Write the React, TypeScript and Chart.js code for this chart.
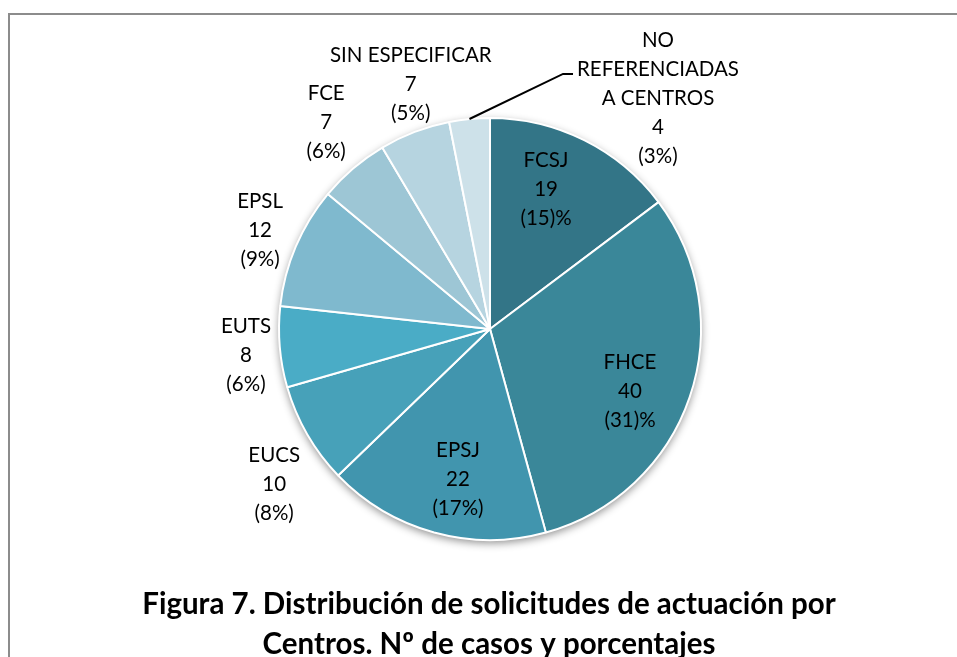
import { useEffect, useRef } from "react";
import { Chart, registerables } from "chart.js";

Chart.register(...registerables);

// ---- data ----
const CATEGORIES = [
  "FCSJ",
  "FHCE",
  "EPSJ",
  "EUCS",
  "EUTS",
  "EPSL",
  "FCE",
  "SIN ESPECIFICAR",
  "NO REFERENCIADAS A CENTROS",
];
const NAME_LINES = [
  ["FCSJ"],
  ["FHCE"],
  ["EPSJ"],
  ["EUCS"],
  ["EUTS"],
  ["EPSL"],
  ["FCE"],
  ["SIN ESPECIFICAR"],
  ["NO", "REFERENCIADAS", "A CENTROS"],
];
const CASES = [19, 40, 22, 10, 8, 12, 7, 7, 4];
const PCT_LABELS = ["(15)%", "(31)%", "(17%)", "(8%)", "(6%)", "(9%)", "(6%)", "(5%)", "(3%)"];
const TITLE_LINES = [
  "Figura 7. Distribución de solicitudes de actuación por",
  "Centros. Nº de casos y porcentajes",
];

// ---- styles ----
const COLORS = [
  "#337587",
  "#3a8799",
  "#4195ae",
  "#47a1b9",
  "#4aacc6",
  "#7fb9ce",
  "#9dc6d5",
  "#b6d4e0",
  "#cde1e9",
];
// label placement relative to each slice (fraction of radius, angle shift in degrees)
const LABEL_RADIUS = [0.715, 0.726, 0.727, 1.261, 1.163, 1.185, 1.248, 1.22, 1.354];
const LABEL_ANGLE_SHIFT = [-4.7, 5.1, -3.3, -5.8, -1.2, 0.1, 2.0, 3.0, 41.6];
const HAS_LEADER = [false, false, false, false, false, false, false, false, true];

const LABEL_FONT = '20.5px Lato, "Open Sans", sans-serif';
const TITLE_FONT = 'bold 29.5px Lato, "Open Sans", sans-serif';
const LINE_H = 29;

const piePlugin = {
  id: "pieDecor",
  beforeDraw(chart: any) {
    const ctx = chart.ctx;
    ctx.save();
    ctx.fillStyle = "#ffffff";
    ctx.fillRect(0, 0, chart.width, chart.height);
    ctx.fillStyle = "#8c8c8c";
    ctx.fillRect(8, 13, chart.width - 8, 2);
    ctx.fillRect(8, 13, 2, chart.height - 13);
    ctx.restore();
  },
  beforeDatasetsDraw(chart: any) {
    const meta = chart.getDatasetMeta(0);
    const arc = meta.data[0];
    if (!arc) return;
    const { x, y, outerRadius } = arc.getProps(["x", "y", "outerRadius"], true);
    const ctx = chart.ctx;
    ctx.save();
    ctx.shadowColor = "rgba(0,0,0,0.45)";
    ctx.shadowBlur = 8;
    ctx.shadowOffsetY = 3;
    ctx.fillStyle = "#ffffff";
    ctx.beginPath();
    ctx.arc(x, y, outerRadius, 0, Math.PI * 2);
    ctx.fill();
    ctx.restore();
  },
  afterDatasetsDraw(chart: any) {
    const meta = chart.getDatasetMeta(0);
    const ctx = chart.ctx;
    ctx.save();
    ctx.font = LABEL_FONT;
    ctx.textAlign = "center";
    ctx.textBaseline = "middle";
    ctx.fillStyle = "#000000";
    meta.data.forEach((arc: any, i: number) => {
      const { x, y, startAngle, endAngle, outerRadius } = arc.getProps(
        ["x", "y", "startAngle", "endAngle", "outerRadius"],
        true
      );
      const midRaw = (startAngle + endAngle) / 2;
      const mid = midRaw + (LABEL_ANGLE_SHIFT[i] * Math.PI) / 180;
      const r = outerRadius * LABEL_RADIUS[i];
      const cx = x + Math.cos(mid) * r;
      const cy = y + Math.sin(mid) * r;
      const lines = [...NAME_LINES[i], String(CASES[i]), PCT_LABELS[i]];
      const n = lines.length;
      let maxW = 0;
      lines.forEach((t, k) => {
        ctx.fillText(t, cx, cy + (k - (n - 1) / 2) * LINE_H);
        maxW = Math.max(maxW, ctx.measureText(t).width);
      });
      if (HAS_LEADER[i]) {
        const sx = x + Math.cos(midRaw) * outerRadius;
        const sy = y + Math.sin(midRaw) * outerRadius;
        const ey = cy + (1 - (n - 1) / 2) * LINE_H + 5;
        const ex = cx - maxW / 2 - 4;
        ctx.strokeStyle = "#000000";
        ctx.lineWidth = 2;
        ctx.beginPath();
        ctx.moveTo(sx, sy);
        ctx.lineTo(ex - 10, ey);
        ctx.lineTo(ex, ey);
        ctx.stroke();
      }
    });
    ctx.restore();
  },
  afterDraw(chart: any) {
    const ctx = chart.ctx;
    ctx.save();
    ctx.font = TITLE_FONT;
    ctx.textAlign = "center";
    ctx.textBaseline = "middle";
    ctx.fillStyle = "#000000";
    TITLE_LINES.forEach((t, k) => ctx.fillText(t, 489, 604 + k * 40));
    ctx.restore();
  },
};

export default function App() {
  const ref = useRef<HTMLCanvasElement | null>(null);
  useEffect(() => {
    document.body.style.margin = "0";
    if (!ref.current) return;
    const chart = new Chart(ref.current, {
      type: "pie",
      data: {
        labels: CATEGORIES,
        datasets: [
          {
            data: CASES,
            backgroundColor: COLORS,
            borderColor: "#ffffff",
            borderWidth: 2,
            hoverBorderWidth: 2,
          },
        ],
      },
      options: {
        responsive: false,
        animation: false,
        layout: { padding: { left: 278, right: 255, top: 117, bottom: 116 } },
        plugins: {
          legend: { display: false },
          tooltip: { enabled: false },
          title: { display: false },
        },
      },
      plugins: [piePlugin],
    });
    return () => chart.destroy();
  }, []);
  return (
    <div style={{ width: 957, height: 657 }}>
      <canvas ref={ref} width={957} height={657} style={{ display: "block" }} />
    </div>
  );
}
